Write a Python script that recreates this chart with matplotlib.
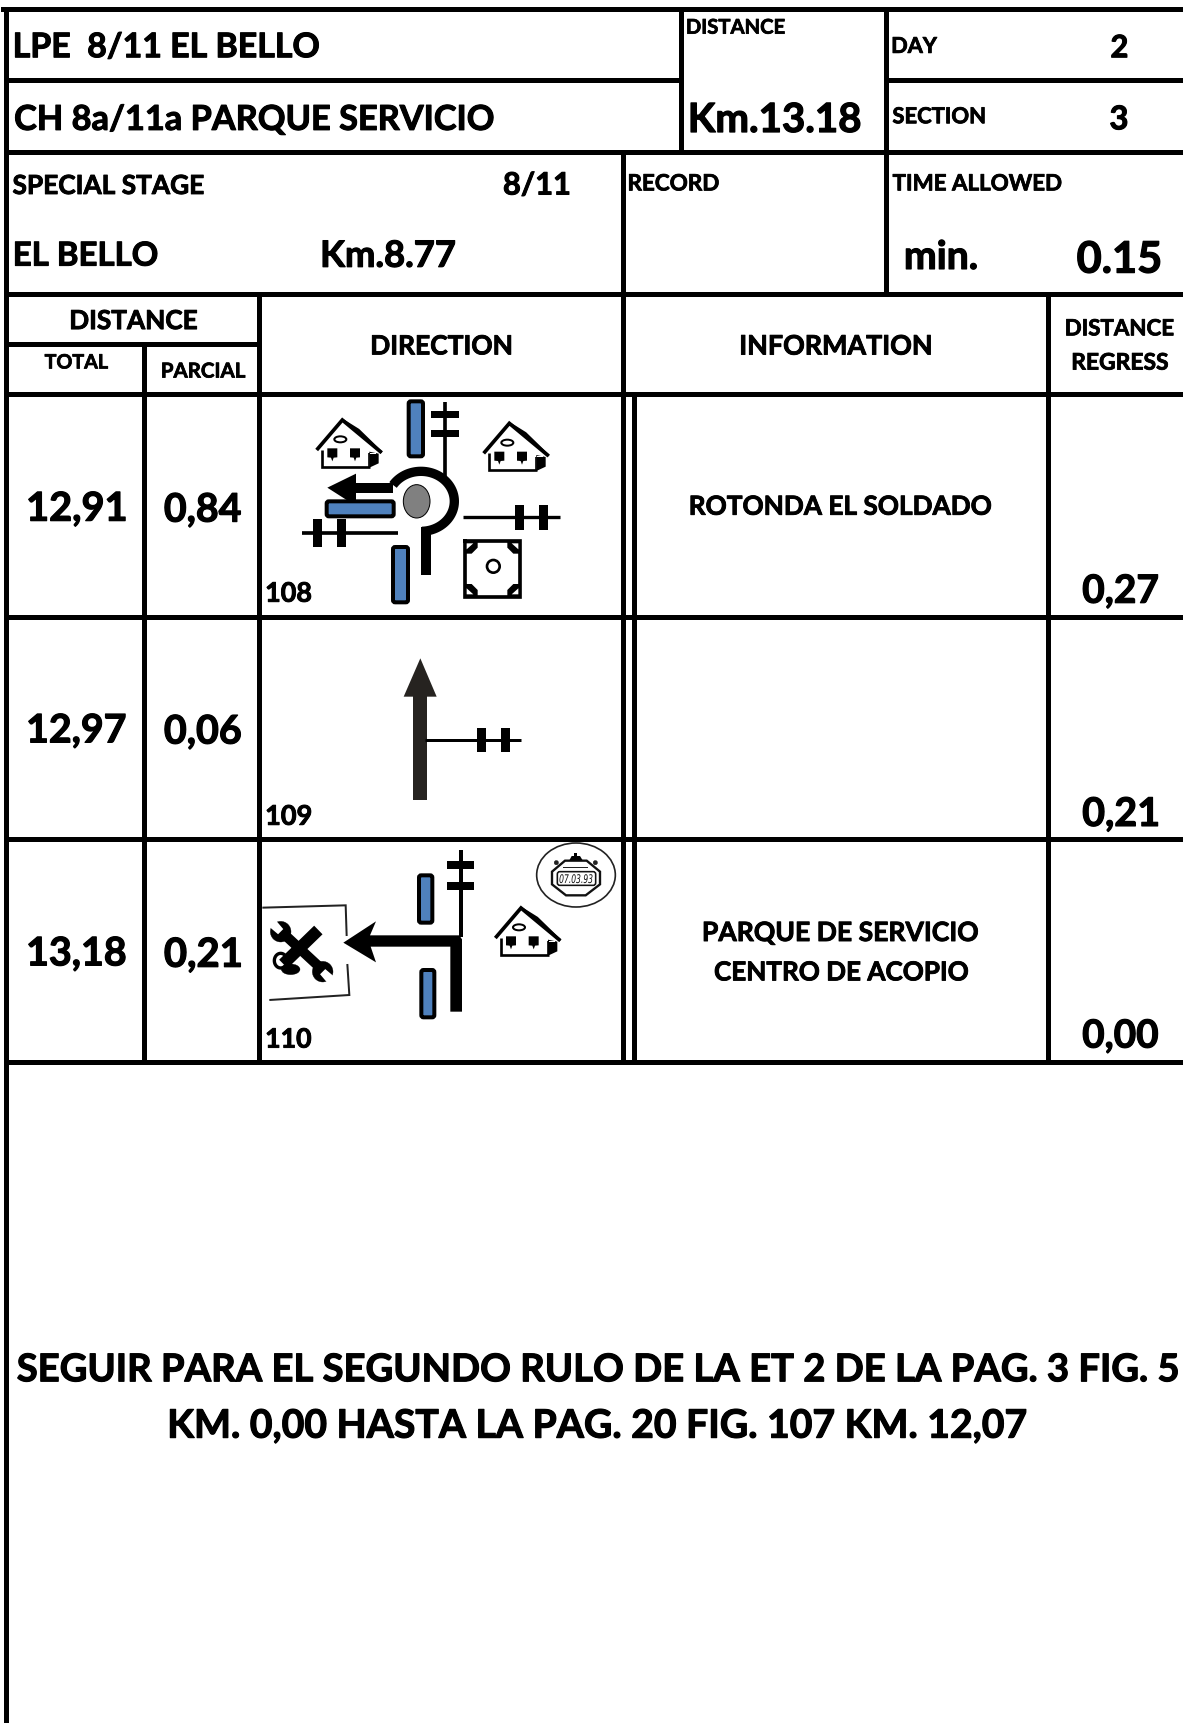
import numpy as np
import matplotlib
matplotlib.use("Agg")
import matplotlib.pyplot as plt
import matplotlib.patheffects as pe
from matplotlib.patches import Polygon, Ellipse, Rectangle, FancyBboxPatch, PathPatch
from matplotlib.textpath import TextPath
from matplotlib.transforms import Affine2D
from matplotlib.font_manager import FontProperties

W, H = 1183, 1723
K = 1183 / 1077

# ---- content ----
TITLE_1 = "LPE  8/11 EL BELLO"
TITLE_2 = "CH 8a/11a PARQUE SERVICIO"
TOTAL_DISTANCE = "Km.13.18"
DAY = "2"
SECTION = "3"
STAGE_NUMBER = "8/11"
STAGE_NAME = "EL BELLO"
STAGE_KM = "Km.8.77"
TIME_ALLOWED = "0.15"
totals = ["12,91", "12,97", "13,18"]
parcials = ["0,84", "0,06", "0,21"]
regress = ["0,27", "0,21", "0,00"]
figure_ids = ["108", "109", "110"]
info_lines = [["ROTONDA EL SOLDADO"], [], ["PARQUE DE SERVICIO", "CENTRO DE ACOPIO"]]
note_lines = ["SEGUIR PARA EL SEGUNDO RULO DE LA ET 2 DE LA PAG. 3 FIG. 5",
              "KM. 0,00 HASTA LA PAG. 20 FIG. 107 KM. 12,07"]

# ---- layout ----
BLUE = "#4f81bd"
GREY = "#808080"
DARK = "#262320"

fig = plt.figure(figsize=(W / 100, H / 100), dpi=100, facecolor="white")
ax = fig.add_axes([0, 0, 1, 1])
ax.set_xlim(0, W)
ax.set_ylim(H, 0)
ax.axis("off")

fp = FontProperties(family="Lato", weight="bold")


def lw(px):
    return px * 0.72


def txt(s, x0, x1, yc, color="black"):
    """Fit text between x0..x1 (coords of the shrunk view), centred on cap height yc."""
    tp = TextPath((0, 0), s, size=100, prop=fp)
    ext = tp.get_extents()
    target = (x1 - x0) * K
    size_px = 100 * target / ext.width
    stroke_pt = 0.2 + size_px * 0.016
    inset = stroke_pt / 0.72 / 2 + 0.6
    size_px = 100 * (target - 2 * inset) / ext.width
    cap = 0.72 * size_px
    x = x0 * K + inset - ext.x0 * size_px / 100
    t = ax.text(x, yc * K + cap / 2, s, fontproperties=fp, fontsize=size_px * 0.72,
                color=color, ha="left", va="baseline")
    t.set_path_effects([pe.withStroke(linewidth=stroke_pt, foreground=color)])


def hl(y, x0, x1, w=5):
    ax.plot([x0, x1], [y, y], color="black", lw=lw(w), solid_capstyle="projecting", zorder=3)


def vl(x, y0, y1, w=5):
    ax.plot([x, x], [y0, y1], color="black", lw=lw(w), solid_capstyle="projecting", zorder=3)


# ---- grid ----
hl(9, 3, W)
hl(80, 6, 681)
hl(80, 886, W)
for y in [152, 294, 394, 617, 839, 1062]:
    hl(y, 6, W)
hl(344, 6, 259)
vl(6, 9, H)
vl(681, 9, 152)
vl(886, 9, 294)
vl(623.5, 152, 1062)
vl(259, 294, 1062)
vl(144, 344, 1062)
vl(1048, 294, 1062)
vl(634, 394, 1062)

# ---- header text ----
txt(TITLE_1, 13, 291, 41)
txt(TITLE_2, 13, 450, 107)
txt("DISTANCE", 625, 715, 24)
txt(TOTAL_DISTANCE, 628, 784, 107)
txt("DAY", 812, 854, 41)
txt(DAY, 1011, 1027, 42)
txt("SECTION", 812, 897, 105)
txt(SECTION, 1010, 1027, 107)
txt("SPECIAL STAGE", 11, 186, 168)
txt(STAGE_NUMBER, 458, 519, 167)
txt("RECORD", 572, 655, 166)
txt("TIME ALLOWED", 812, 967, 166)
txt(STAGE_NAME, 13, 144, 231)
txt(STAGE_KM, 293, 415, 231)
txt("min.", 824, 890, 232)
txt(TIME_ALLOWED, 980, 1057, 234)
txt("DISTANCE", 64, 180, 291)
txt("TOTAL", 40, 99, 329)
txt("PARCIAL", 147, 224, 337)
txt("DIRECTION", 338, 466, 314)
txt("INFORMATION", 674, 848, 314)
txt("DISTANCE", 970, 1069, 298)
txt("REGRESS", 976, 1064, 329)

# ---- rows ----
row_y = [461, 663, 866]
for i in range(3):
    txt(totals[i], 25, 115, row_y[i])
    txt(parcials[i], 149, 220, row_y[i] + 1)
    txt(regress[i], 985, 1055, [536, 739, 941][i])
    txt(figure_ids[i], 242, 284, [539, 742, 945][i])
txt(info_lines[0][0], 628, 903, 460)
txt(info_lines[2][0], 640, 891, 848)
txt(info_lines[2][1], 650, 882, 884)
txt(note_lines[0], 15, 1073, 1245)
txt(note_lines[1], 154, 935, 1296)


# ---- icons (drawn in 3x zoom-crop units) ----
class Z:
    def __init__(self, ox, oy):
        self.ox, self.oy = ox, oy

    def p(self, x, y):
        return self.ox + x / 3, self.oy + y / 3

    def line(self, pts, w, color="black", cap="butt", z=5, join="miter"):
        xy = np.array([self.p(*q) for q in pts])
        ax.plot(xy[:, 0], xy[:, 1], color=color, lw=lw(w / 3), solid_capstyle=cap,
                solid_joinstyle=join, zorder=z)

    def rect(self, x0, y0, x1, y1, color="black", z=5):
        a = self.p(x0, y0)
        ax.add_patch(Rectangle(a, (x1 - x0) / 3, (y1 - y0) / 3, fc=color, ec="none", zorder=z))

    def poly(self, pts, fc="black", ec="none", w=0, z=5):
        ax.add_patch(Polygon([self.p(*q) for q in pts], closed=True, fc=fc, ec=ec,
                             lw=lw(w / 3), zorder=z, joinstyle="miter"))

    def ell(self, cx, cy, w, h, fc="white", ec="black", lwz=6, z=6):
        ax.add_patch(Ellipse(self.p(cx, cy), w / 3, h / 3, fc=fc, ec=ec, lw=lw(lwz / 3), zorder=z))

    def bar(self, x0, y0, x1, y1, e=12):
        a = self.p(x0 + e / 2, y0 + e / 2)
        ax.add_patch(FancyBboxPatch(a, (x1 - x0 - e) / 3, (y1 - y0 - e) / 3,
                                    boxstyle="round,pad=0,rounding_size=2.2",
                                    fc=BLUE, ec="black", lw=lw(e / 3), zorder=6))


def house(z, dx, dy):
    t = lambda q: (q[0] + dx, q[1] + dy)
    z.poly([t(q) for q in [(218, 195), (277, 115), (355, 195), (355, 245), (218, 245)]], fc="white", z=5)
    z.line([t(q) for q in [(200, 195), (277, 105), (395, 203)]], 11)
    z.line([t(q) for q in [(277, 105), (325, 135), (395, 203)]], 8)
    z.line([t(q) for q in [(216, 195), (216, 246), (360, 246)]], 8)
    z.line([t(q) for q in [(358, 205), (358, 246)]], 5)
    z.poly([t(q) for q in [(358, 200), (386, 206), (386, 235), (358, 248)]], fc="black")
    z.rect(*t((360, 203)), *t((378, 206)), color="white", z=6)
    z.ell(*t((271, 163)), 36, 18, lwz=6)
    for wx in (247, 315):
        z.poly([t(q) for q in [(wx - 15, 190), (wx + 15, 190), (wx + 15, 217), (wx + 4, 218), (wx, 229),
                               (wx - 4, 218), (wx - 15, 217)]])


# --- figure 108 ---
a = Z(250, 385)
house(a, 0, 0)
house(a, 501, 10)
a.bar(470, 43, 525, 220)
a.bar(224, 343, 437, 400)
a.bar(423, 480, 480, 658)
a.line([(585, 52), (585, 275)], 11)
a.rect(543, 78, 627, 100)
a.rect(543, 135, 627, 157)
a.line([(640, 397), (930, 397)], 10)
a.rect(795, 360, 822, 435)
a.rect(867, 360, 894, 435)
a.line([(157, 444), (443, 444)], 11)
a.rect(189, 403, 216, 486)
a.rect(261, 403, 288, 486)
th = np.radians(np.linspace(-147, 88, 80))
arc = [(513 + 100 * np.cos(t), 349 + 90 * np.sin(t)) for t in th]
a.line(arc, 28, z=4, join="round")
a.rect(514, 425, 543, 571, z=4)
a.rect(310, 295, 430, 323, z=4)
a.poly([(232, 308), (318, 266), (318, 345), (290, 345)], z=4)
a.ell(500, 349, 80, 100, fc=GREY, ec="black", lwz=3)
# tripod / square symbol
a.line([(645, 468), (811, 468), (811, 636), (645, 636), (645, 468)], 11, z=5, cap="projecting")
a.ell(730, 544, 38, 38, lwz=8)
for cx, cy, sx, sy in [(645, 468, 1, 1), (810, 468, -1, 1), (645, 635, 1, -1), (810, 635, -1, -1)]:
    a.poly([(cx, cy + sy * 38), (cx + sx * 20, cy + sy * 38), (cx + sx * 38, cy + sy * 20),
            (cx + sx * 38, cy), (cx, cy)], fc="black", z=6)
    a.poly([(cx + sx * 5, cy + sy * 25), (cx + sx * 25, cy + sy * 7), (cx + sx * 5, cy + sy * 7)],
           fc="white", z=7)

# --- figure 109 ---
b = Z(370, 640)
b.rect(130, 165, 172, 480, color=DARK)
b.poly([(151, 55), (101, 170), (200, 170)], fc=DARK)
b.line([(165, 301), (453, 301)], 9)
b.rect(321, 264, 348, 336)
b.rect(393, 264, 420, 336)

# --- figure 110 ---
c = Z(250, 830)
c.bar(501, 130, 553, 284)
c.bar(508, 414, 559, 568)
c.line([(633, 60), (633, 320)], 12)
c.rect(591, 93, 672, 117)
c.rect(591, 156, 672, 180)
c.poly([(601, 545), (636, 545), (636, 328), (628, 316), (360, 316), (378, 274), (280, 338),
        (378, 397), (362, 350), (601, 350)])
house(c, 536, 129)
# service box
c.line([(37, 233), (287, 226), (290, 318)], 6, color="#222222")
c.line([(292, 402), (298, 495), (58, 510)], 6, color="#222222")
# crossed tools
c.line([(205, 300), (100, 402)], 36)
c.line([(92, 303), (218, 420)], 30)
for hx, hy, sx in [(92, 305, -1), (218, 425, 1)]:
    c.ell(hx, hy, 62, 62, fc="black", ec="black", lwz=1)
    d = np.array([sx, sx]) / np.sqrt(2)
    n = np.array([-d[1], d[0]])
    h = np.array([hx, hy])
    c.poly([tuple(h + n * 11), tuple(h - n * 11), tuple(h - n * 14 + d * 36), tuple(h + n * 14 + d * 36)],
           fc="white", z=7)
th = np.radians(np.linspace(40, 340, 30))
c.line([(92 + 19 * np.cos(t), 392 + 22 * np.sin(t)) for t in th], 10, join="round", z=6)
c.ell(122, 418, 56, 32, fc="black", ec="black", lwz=1)
# stopwatch
c.ell(978, 135, 236, 192, fc="white", ec="#222222", lwz=5, z=4)
c.poly([(945, 92), (1010, 92), (1050, 125), (1050, 163), (1007, 196), (948, 196), (906, 163), (906, 125)],
       fc="white", ec="#111111", w=7)
c.poly([(958, 91), (965, 78), (990, 78), (998, 91)])
c.rect(973, 68, 982, 78)
c.rect(940, 110, 1015, 115, color="#222222")
c.ell(919, 98, 13, 13, fc="#222222", lwz=1)
c.ell(1036, 98, 13, 13, fc="#222222", lwz=1)
q = c.p(922, 125)
ax.add_patch(FancyBboxPatch(q, 115 / 3, 41 / 3, boxstyle="round,pad=0,rounding_size=2.5", fc="white",
                            ec="#111111", lw=lw(1.6), zorder=6))
clock = TextPath((0, 0), "07.03.93", size=10, prop=FontProperties(family="DejaVu Sans", style="italic"))
ce = clock.get_extents()
cw, ch = 33.0, 9.0
cx0, cy0 = c.p(978, 146)
tr = Affine2D().translate(-ce.x0 - ce.width / 2, -ce.y0 - ce.height / 2).scale(cw / ce.width, -ch / ce.height).translate(cx0, cy0)
ax.add_patch(PathPatch(clock, transform=tr + ax.transData, fc="#111111", ec="none", zorder=7))

fig.savefig("out.png", dpi=100, facecolor="white")
